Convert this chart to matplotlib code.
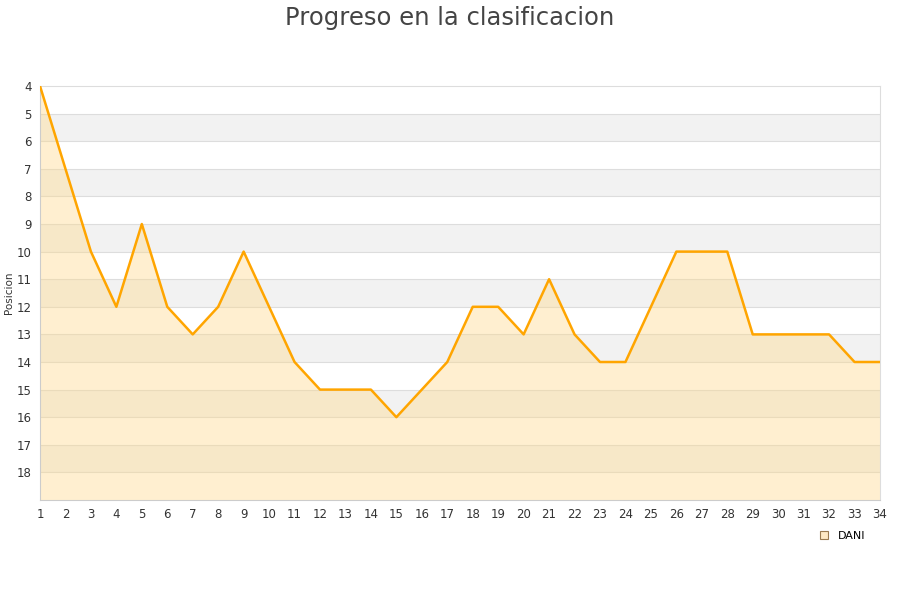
import matplotlib.pyplot as plt
from matplotlib.lines import Line2D

# Data
jornadas = list(range(1, 35))
posicion = [4, 7, 10, 12, 9, 12, 13, 12, 10, 12, 14, 15, 15, 15, 16, 15, 14, 12, 12, 13,
            11, 13, 14, 14, 12, 10, 10, 10, 13, 13, 13, 13, 14, 14]
y_ticks = list(range(4, 19))
serie = "DANI"

fig = plt.figure(figsize=(9, 6), dpi=100)
ax = fig.add_axes([40 / 900, 100 / 600, 840 / 900, 414 / 600])

ax.set_xlim(1, 34)
ax.set_ylim(19, 4)

# alternating bands
for y0 in range(5, 19, 2):
    ax.axhspan(y0, y0 + 1, color="#f2f2f2", zorder=0, lw=0)
for y in range(5, 19):
    ax.axhline(y, color="#dddddd", lw=0.8, zorder=1)

ax.fill_between(jornadas, posicion, 19, color="#ffd98a", alpha=0.4, lw=0, zorder=2)
ax.plot(jornadas, posicion, color="#ffa500", lw=1.8, zorder=3)

ax.set_xticks(jornadas)
ax.set_yticks(y_ticks)
ax.tick_params(length=0, labelsize=8.5, colors="#333333", pad=6)
for s in ["top", "right"]:
    ax.spines[s].set_color("#dddddd")
for s in ["left", "bottom"]:
    ax.spines[s].set_color("#cccccc")
ax.set_ylabel("Posicion", fontsize=7.5, color="#333333", labelpad=2)

fig.suptitle("Progreso en la clasificacion", fontsize=17.5, color="#444444", y=0.99)

handle = Line2D([], [], marker="s", ls="", markersize=6, markerfacecolor="#ffe9c4",
                markeredgecolor="#9b7b50", markeredgewidth=0.8)
fig.legend([handle], [serie], loc="center", bbox_to_anchor=(839 / 900, 1 - 536 / 600),
           frameon=False, fontsize=8, handletextpad=0.3)

fig.savefig("out.png", dpi=100)
